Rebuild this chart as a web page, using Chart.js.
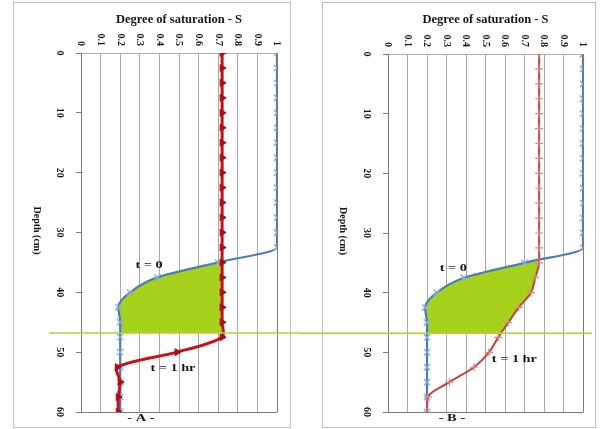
<!DOCTYPE html>
<html>
<head>
<meta charset="utf-8">
<script src="https://cdn.jsdelivr.net/npm/chart.js@4.4.1/dist/chart.umd.min.js"></script>
<style>
  html, body { margin: 0; padding: 0; background: #ffffff; }
  #wrap { position: relative; width: 600px; height: 429px; overflow: hidden; }
  #wrap canvas { position: absolute; top: 0; }
</style>
</head>
<body>
<div id="wrap">
  <canvas id="panelA" width="300" height="429" style="left:0"></canvas>
  <canvas id="panelB" width="300" height="429" style="left:300px"></canvas>
</div>
<script>
// Depth of each reading (cm), one every 2.5 cm
const depthCm = [0, 2.5, 5, 7.5, 10, 12.5, 15, 17.5, 20, 22.5, 25, 27.5, 30, 32.5,
                 35, 37.5, 40, 42.5, 45, 47.5, 50, 52.5, 55, 57.5, 60];

// Degree of saturation at t = 0 (same initial profile for both columns)
const satInitial = [1, 1, 1, 1, 1, 1, 1, 1, 1, 1, 1, 1, 1, 1,
                    0.70, 0.39, 0.25, 0.19, 0.20, 0.20, 0.20, 0.20, 0.20, 0.20, 0.20];

// Degree of saturation at t = 1 hr, column A
const satHourA = [0.72, 0.72, 0.72, 0.72, 0.72, 0.72, 0.72, 0.72, 0.72, 0.72,
                  0.72, 0.72, 0.72, 0.72, 0.72, 0.72, 0.72, 0.72, 0.72, 0.72,
                  0.49, 0.185, 0.20, 0.19, 0.19];

// Degree of saturation at t = 1 hr, column B
const satHourB = [0.775, 0.775, 0.775, 0.775, 0.775, 0.775, 0.775, 0.775, 0.775, 0.775,
                  0.775, 0.775, 0.775, 0.775,
                  0.775, 0.755, 0.733, 0.67, 0.617, 0.565, 0.518, 0.441, 0.315, 0.205, 0.20];

// Axis ticks
const satTicks = [0, 0.1, 0.2, 0.3, 0.4, 0.5, 0.6, 0.7, 0.8, 0.9, 1];
const satTickLabels = ['0', '0.1', '0.2', '0.3', '0.4', '0.5', '0.6', '0.7', '0.8', '0.9', '1'];
const depthTicks = [0, 10, 20, 30, 40, 50, 60];

// Depth of the wetting-front marker line (cm)
const frontDepth = 46.8;

const SERIF = '"Liberation Serif", "DejaVu Serif", serif';
const INK = '#161616';

function drawRotated(ctx, text, x, y, align) {
  ctx.save();
  ctx.translate(x, y);
  ctx.rotate(Math.PI / 2);
  ctx.textAlign = align;
  ctx.textBaseline = 'middle';
  ctx.fillText(text, 0, 0);
  ctx.restore();
}

function drawWide(ctx, text, x, y, sx) {
  ctx.save();
  ctx.translate(x, y);
  ctx.scale(sx, 1);
  ctx.textAlign = 'center';
  ctx.textBaseline = 'middle';
  ctx.fillText(text, 0, 0);
  ctx.restore();
}

function buildPanel(canvasId, p) {
  const toPoints = arr => depthCm.map((d, i) => ({ x: arr[i], y: d }));

  // keeps the wetted-zone fill between its top and the front line
  const wetClip = {
    id: 'wetClip',
    beforeDatasetsDraw(chart) {
      const { ctx, chartArea: a } = chart;
      const ys = chart.scales.y;
      const top = ys.getPixelForValue(p.wetTop);
      const bottom = ys.getPixelForValue(frontDepth);
      ctx.save();
      ctx.beginPath();
      ctx.rect(a.left, top, a.right - a.left, bottom - top);
      ctx.clip();
    },
    afterDatasetDraw(chart, args) {
      if (args.index === 0) chart.ctx.restore();
    }
  };

  // frame, axis text, annotations and front line
  const decor = {
    id: 'decor',
    beforeDraw(chart) {
      const ctx = chart.ctx;
      ctx.save();
      ctx.fillStyle = '#ffffff';
      ctx.fillRect(0, 0, chart.width, chart.height);
      ctx.strokeStyle = '#bdbdbd';
      ctx.lineWidth = 1;
      ctx.strokeRect(p.frame[0] + 0.5, p.frame[1] + 0.5, p.frame[2] - p.frame[0], p.frame[3] - p.frame[1]);
      ctx.restore();
    },
    afterDraw(chart) {
      const { ctx, chartArea: a } = chart;
      const xs = chart.scales.x, ys = chart.scales.y;
      ctx.save();
      // right and bottom edges of the plot area
      ctx.strokeStyle = '#7a7a7a';
      ctx.lineWidth = 1;
      ctx.beginPath();
      ctx.moveTo(Math.round(a.right) + 0.5, a.top);
      ctx.lineTo(Math.round(a.right) + 0.5, a.bottom);
      ctx.moveTo(a.left - 5, Math.round(a.bottom) + 0.5);
      ctx.lineTo(a.right + 0.5, Math.round(a.bottom) + 0.5);
      ctx.stroke();

      ctx.fillStyle = INK;
      // saturation tick labels, above the plot
      ctx.font = 'bold 10px ' + SERIF;
      satTicks.forEach((v, i) => drawRotated(ctx, satTickLabels[i], xs.getPixelForValue(v), a.top - 7, 'right'));
      // depth tick labels
      depthTicks.forEach(d => drawRotated(ctx, String(d), a.left - 21, ys.getPixelForValue(d), 'center'));
      // axis titles
      drawRotated(ctx, 'Depth (cm)', a.left - p.depthTitleOffset, (a.top + a.bottom) / 2 - 2, 'center');
      ctx.font = 'bold 12.5px ' + SERIF;
      ctx.textAlign = 'center';
      ctx.textBaseline = 'middle';
      ctx.fillText('Degree of saturation - S', (a.left + a.right) / 2, 20);

      // curve labels
      ctx.font = 'bold 11px ' + SERIF;
      drawWide(ctx, 't = 0', xs.getPixelForValue(p.t0Label[0]), ys.getPixelForValue(p.t0Label[1]), 1.3);
      drawWide(ctx, 't = 1 hr', xs.getPixelForValue(p.t1Label[0]), ys.getPixelForValue(p.t1Label[1]), 1.3);
      ctx.font = 'bold 10px ' + SERIF;
      drawWide(ctx, p.letter, xs.getPixelForValue(p.letterAt), a.bottom + 6.5, 1.45);

      // wetting-front line
      const fy = ys.getPixelForValue(frontDepth);
      ctx.strokeStyle = '#a9d43c';
      ctx.lineWidth = 1.5;
      ctx.beginPath();
      ctx.moveTo(p.frontSpan[0], fy);
      ctx.lineTo(p.frontSpan[1], fy);
      ctx.stroke();
      ctx.restore();
    }
  };

  const curve = mode => mode === 'monotone'
    ? { cubicInterpolationMode: 'monotone', tension: 0.4 }
    : { tension: mode };

  return new Chart(document.getElementById(canvasId), {
    type: 'line',
    data: {
      datasets: [
        Object.assign({
          label: 'wetted zone',
          data: toPoints(satInitial),
          borderWidth: 0,
          borderColor: 'rgba(0,0,0,0)',
          pointRadius: 0,
          backgroundColor: '#a6d21c',
          fill: 2,
          order: 3
        }, curve('monotone')),
        Object.assign({
          label: 't = 0',
          data: toPoints(satInitial),
          borderColor: '#4a7ebb',
          borderWidth: 2.2,
          pointStyle: 'crossRot',
          pointRadius: 4.5,
          pointBorderColor: '#86acdd',
          pointBorderWidth: 1.3,
          pointBackgroundColor: '#86acdd',
          fill: false,
          order: 2
        }, curve('monotone')),
        Object.assign({
          label: 't = 1 hr',
          data: toPoints(p.hour),
          borderColor: p.red.line,
          borderWidth: p.red.width,
          pointStyle: p.red.marker,
          pointRotation: p.red.rotation,
          pointRadius: p.red.radius,
          pointBorderColor: p.red.markerColor,
          pointBackgroundColor: p.red.markerColor,
          pointBorderWidth: p.red.markerWidth,
          fill: false,
          order: 1
        }, curve(p.red.curve))
      ]
    },
    options: {
      responsive: false,
      animation: false,
      devicePixelRatio: 1,
      indexAxis: 'y',
      events: [],
      layout: { padding: p.pad },
      plugins: {
        legend: { display: false },
        tooltip: { enabled: false },
        title: { display: false }
      },
      scales: {
        x: {
          type: 'linear',
          position: 'top',
          min: 0,
          max: 1,
          afterBuildTicks: s => { s.ticks = satTicks.map(v => ({ value: v })); },
          afterFit: s => { s.height = 0; },
          ticks: { display: false },
          grid: { color: '#a8a8a8', lineWidth: 1, drawTicks: false },
          border: { color: '#b0b0b0' }
        },
        y: {
          type: 'linear',
          position: 'left',
          reverse: true,
          min: 0,
          max: 60,
          afterBuildTicks: s => { s.ticks = depthTicks.map(v => ({ value: v })); },
          afterFit: s => { s.width = 0; },
          ticks: { display: false },
          grid: { drawOnChartArea: false, drawTicks: true, tickLength: 5, color: '#7a7a7a' },
          border: { color: '#7a7a7a' }
        }
      }
    },
    plugins: [wetClip, decor]
  });
}

buildPanel('panelA', {
  hour: satHourA,
  pad: { left: 81, top: 53, right: 23, bottom: 17 },
  frame: [13, 2, 290, 427],
  frontSpan: [49, 300],
  wetTop: 34.9,
  depthTitleOffset: 44,
  t0Label: [0.347, 35.45],
  t1Label: [0.469, 52.6],
  letter: '- A -',
  letterAt: 0.306,
  red: { line: '#c8101a', width: 3, marker: 'triangle', rotation: 90, radius: 4,
         markerColor: '#b00d12', markerWidth: 1, curve: 0.3 }
});

buildPanel('panelB', {
  hour: satHourB,
  pad: { left: 88, top: 54, right: 17, bottom: 17 },
  frame: [22, 2, 295, 427],
  frontSpan: [0, 292],
  wetTop: 34.4,
  depthTitleOffset: 45,
  t0Label: [0.335, 35.9],
  t1Label: [0.648, 51.1],
  letter: '- B -',
  letterAt: 0.328,
  red: { line: '#c9403c', width: 2, marker: 'cross', rotation: 0, radius: 4,
         markerColor: '#de8482', markerWidth: 1.2, curve: 'monotone' }
});
</script>
</body>
</html>
